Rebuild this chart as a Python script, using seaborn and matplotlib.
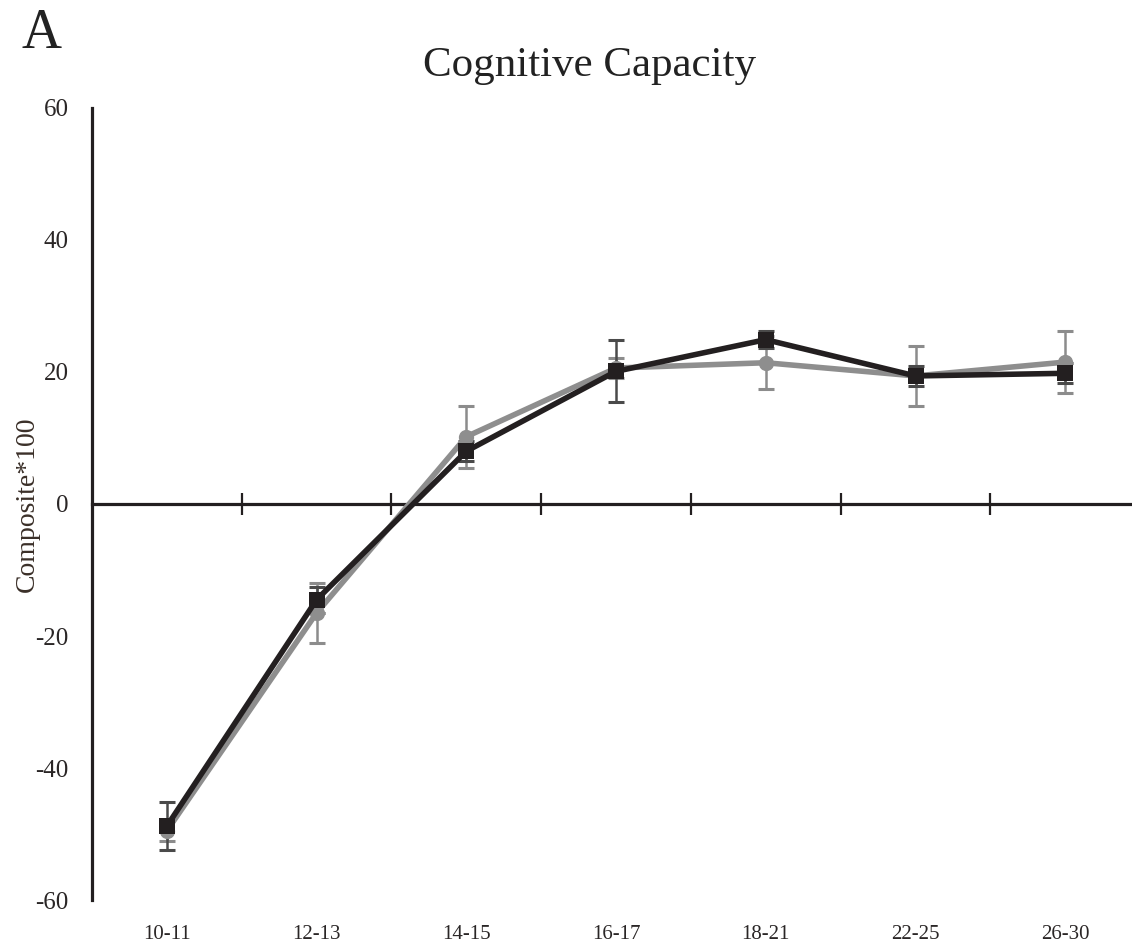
import matplotlib
matplotlib.use('Agg')
import matplotlib.pyplot as plt
import seaborn as sns
import pandas as pd
import numpy as np

age_groups = ['10-11', '12-13', '14-15', '16-17', '18-21', '22-25', '26-30']
gray_values = [-49.5, -16.5, 10.2, 20.6, 21.4, 19.4, 21.5]
gray_errors = [1.5, 4.5, 4.7, 1.5, 4.0, 4.6, 4.7]
black_values = [-48.8, -14.5, 8.0, 20.1, 24.9, 19.4, 19.8]
black_errors = [3.6, 2.0, 1.5, 4.7, 1.3, 1.5, 1.5]

sns.set_style('white')
plt.rcParams['font.family'] = ['Liberation Serif', 'DejaVu Serif']
plt.rcParams['axes.unicode_minus'] = False
text_color = '#2a2626'

pos = np.arange(len(age_groups))
df = pd.DataFrame({
    'pos': np.concatenate([pos, pos]),
    'value': gray_values + black_values,
    'group': ['gray'] * len(pos) + ['black'] * len(pos),
})

fig = plt.figure(figsize=(11.32, 9.47), dpi=100)
ax = fig.add_axes([0.0813, 0.0496, 0.9187, 0.8364])

# error bars under the lines
ax.errorbar(pos, gray_values, yerr=gray_errors, fmt='none', ecolor='#8c8c8c',
            elinewidth=1.8, capsize=5.5, capthick=2.2, zorder=1)
ax.errorbar(pos, black_values, yerr=black_errors, fmt='none', ecolor='#4a4a4a',
            elinewidth=1.8, capsize=5.5, capthick=2.2, zorder=1)

sns.lineplot(data=df, x='pos', y='value', hue='group', style='group',
             palette={'gray': '#8e8e8e', 'black': '#231f20'},
             markers={'gray': 'o', 'black': 's'}, dashes=False,
             linewidth=4, markersize=11, markeredgewidth=0,
             legend=False, ax=ax, zorder=3)

ax.set_xlim(-0.5, 6.446)
ax.set_ylim(-60, 60)
ax.set_yticks(np.arange(-60, 61, 20))
ax.tick_params(axis='y', length=0, pad=17, labelsize=18, labelcolor=text_color)

for side in ['top', 'right']:
    ax.spines[side].set_visible(False)
ax.spines['left'].set_linewidth(2.3)
ax.spines['left'].set_color('#231f20')
ax.spines['bottom'].set_position(('data', 0))
ax.spines['bottom'].set_linewidth(2.3)
ax.spines['bottom'].set_color('#231f20')

# boundary ticks on the zero line
ax.set_xticks([])
ax.set_xticks(pos[:-1] + 0.5, minor=True)
ax.tick_params(axis='x', which='minor', bottom=True, direction='inout', length=16,
               width=1.6, color='#231f20', labelbottom=False)

# category labels along the bottom
sec = ax.secondary_xaxis(0.0)
sec.set_xticks(pos, age_groups)
sec.tick_params(length=0, pad=18, labelsize=15, labelcolor=text_color)
sec.spines['bottom'].set_visible(False)

ax.set_xlabel('')
ax.set_ylabel('Composite*100', fontsize=20, color='#3a2f28')
ax.yaxis.set_label_coords(-0.05, 0.5)

fig.text(0.521, 0.931, 'Cognitive Capacity', ha='center', va='center',
         fontsize=31, color='#222222')
fig.text(0.019, 0.992, 'A', ha='left', va='top', fontsize=40, color='#222222')

fig.savefig('out.png', dpi=100)
